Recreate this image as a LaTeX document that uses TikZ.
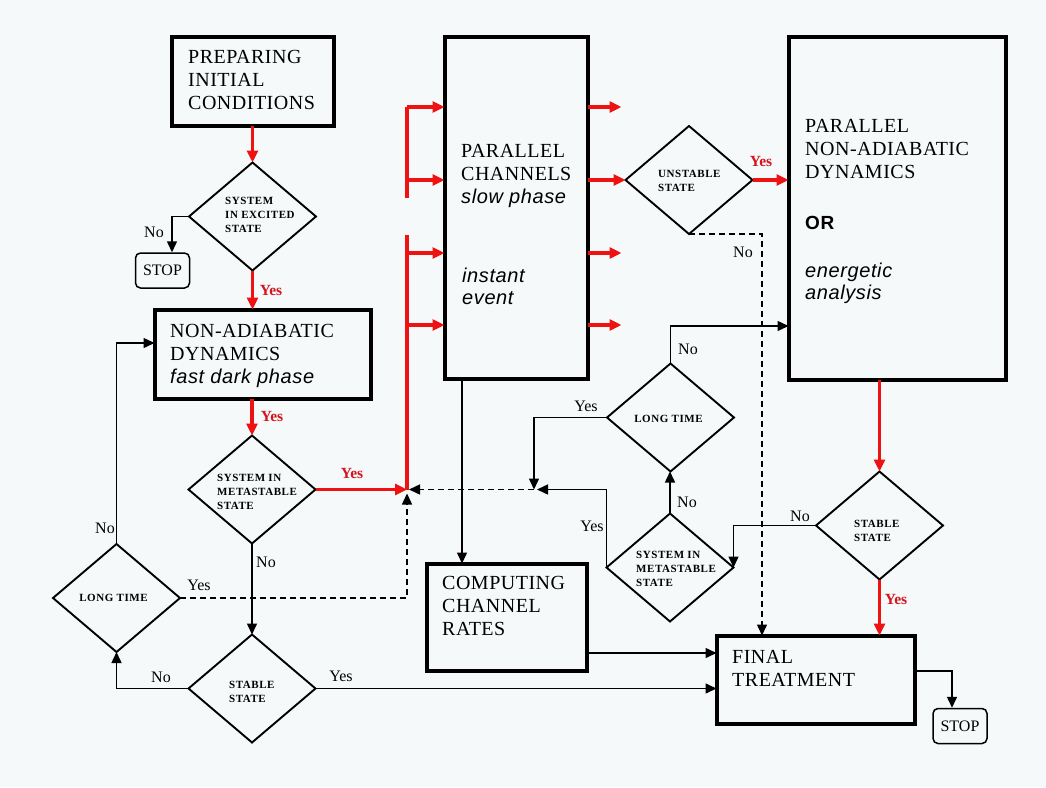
\documentclass[tikz,border=0pt]{standalone}
\usepackage{fontspec}
\setmainfont{Liberation Serif}
\newfontfamily\sansf{Liberation Sans}[LetterSpace=3]
\newfontfamily\dfont{Liberation Serif}[LetterSpace=5]
\newfontfamily\boxf{Liberation Serif}[LetterSpace=2.5]
\usetikzlibrary{shapes.geometric,arrows.meta}
\definecolor{bgcol}{RGB}{246,249,249}
\definecolor{rline}{RGB}{238,18,18}
\definecolor{rtext}{RGB}{212,20,30}
\begin{document}
\begin{tikzpicture}[x=1pt,y=-1pt,
  bigbox/.style={draw=black, line width=4pt, inner sep=0pt, outer sep=0pt},
  dia/.style={draw=black, diamond, line width=1.9pt, inner sep=0pt, outer sep=0pt, minimum width=127pt, minimum height=108pt},
  stopbox/.style={draw=black, rounded corners=5pt, line width=1.5pt, minimum width=54pt, minimum height=35pt, inner sep=0pt, font=\fontsize{16}{18}\selectfont},
  btxt/.style={anchor=north west, inner sep=0pt, align=left, font=\boxf\fontsize{20}{22.8}\selectfont},
  itxt/.style={anchor=north west, inner sep=0pt, align=left, font=\sansf\itshape\fontsize{20}{22}\selectfont},
  dtxt/.style={anchor=north west, inner sep=0pt, align=left, font=\dfont\bfseries\fontsize{11}{14}\selectfont},
  conn/.style={draw=black, line width=1.5pt, -{Triangle[length=11pt,width=10pt]}},
  dconn/.style={conn, dash pattern=on 6pt off 4pt},
  rline/.style={draw=rline, line width=3.5pt},
  rconn/.style={draw=rline, line width=3.5pt, -{Triangle[length=12pt,width=11pt]}},
  lbl/.style={inner sep=0pt, font=\fontsize{16}{16}\selectfont},
  rlbl/.style={inner sep=0pt, text=rtext, font=\bfseries\fontsize{15.5}{16}\selectfont}
]
\fill[bgcol] (0,0) rectangle (1046,787);
\useasboundingbox (0,0) rectangle (1046,787);

% boxes
\node[bigbox, minimum width=162pt, minimum height=89pt] (prep) at (252.5,81) {};
\node[dia] (exc) at (252.5,216.5) {};
\node[stopbox] (stopL) at (162.5,270.5) {STOP};
\node[bigbox, minimum width=216pt, minimum height=89pt] (nonad) at (262.5,354) {};
\node[dia] (meta) at (252,489.5) {};
\node[bigbox, minimum width=143pt, minimum height=342pt] (mid) at (516,207.5) {};
\node[dia] (unst) at (689,180) {};
\node[bigbox, minimum width=217pt, minimum height=343pt] (right) at (897,208) {};
\node[dia] (ltR) at (670.5,417.5) {};
\node[dia] (metaR) at (670,567.5) {};
\node[dia] (stR) at (879.5,525.5) {};
\node[bigbox, minimum width=160pt, minimum height=107pt] (comp) at (506.5,617) {};
\node[bigbox, minimum width=198pt, minimum height=88pt] (final) at (815.5,679.5) {};
\node[stopbox] (stopR) at (960,726) {STOP};
\node[dia] (ltL) at (116.5,598) {};
\node[dia] (stL) at (252,688.5) {};

% box texts
\node[btxt] at (188,50) {PREPARING\\INITIAL\\CONDITIONS};
\node[btxt] at (170,324) {NON-ADIABATIC\\DYNAMICS\\{\sansf\itshape fast dark phase}};
\node[btxt] at (461,144) {PARALLEL\\CHANNELS\\{\sansf\itshape slow phase}};
\node[itxt] at (462,268) {instant\\event};
\node[btxt] at (805,119.5) {PARALLEL\\NON-ADIABATIC\\DYNAMICS};
\node[btxt, font=\sansf\bfseries\fontsize{19}{22}\selectfont] at (805,216.5) {OR};
\node[itxt] at (805,263) {energetic\\analysis};
\node[btxt] at (442,576) {COMPUTING\\CHANNEL\\RATES};
\node[btxt] at (732,650) {FINAL\\TREATMENT};

% diamond texts
\node[dtxt] at (225,197) {SYSTEM\\IN EXCITED\\STATE};
\node[dtxt] at (217,474) {SYSTEM IN\\METASTABLE\\STATE};
\node[dtxt] at (658,170) {UNSTABLE\\STATE};
\node[dtxt, anchor=base] at (113.5,601.5) {LONG TIME};
\node[dtxt] at (229,681) {STABLE\\STATE};
\node[dtxt, anchor=base] at (668.5,422) {LONG TIME};
\node[dtxt] at (636,551) {SYSTEM IN\\METASTABLE\\STATE};
\node[dtxt] at (854,520) {STABLE\\STATE};

% coordinates
\coordinate (J1) at (407,489.5);
\coordinate (J2) at (534,489.5);
\coordinate (bus1) at (407,107);
\coordinate (bus2) at (407,198);
\coordinate (bus3) at (407,235);

% red flow
\draw[rconn] (prep.south) -- (prep.south |- exc.north);
\draw[rconn] (exc.south) -- (exc.south |- nonad.north);
\draw[rconn] (meta.north |- nonad.south) -- (meta.north);
\draw[rconn] (meta.east) -- (J1);
\draw[rline] (bus1) -- (bus2);
\draw[rline] (bus3) -- (J1);
\foreach \yy in {107,180,253,325} {
  \draw[rconn] (407,\yy) -- (mid.west |- 0,\yy);
}
\foreach \yy in {107,253,325} {
  \draw[rconn] (mid.east |- 0,\yy) -- ++(34,0);
}
\draw[rconn] (mid.east |- unst.west) -- (unst.west);
\draw[rconn] (unst.east) -- (right.west |- unst.east);
\draw[rconn] (right.south -| stR.north) -- (stR.north);
\draw[rconn] (stR.south) -- (stR.south |- final.north);

% black connectors
\draw[conn] (exc.west) -| ([xshift=9.5pt]stopL.north);
\draw[dconn] (unst.south) -| (final.north -| 762,0);
\draw[conn] (ltR.north) |- (right.west |- 0,326);
\draw[conn] (ltR.west) -| (J2);
\draw[conn] (metaR.west) |- ([xshift=3pt]J2);
\draw[dconn] (J2) -- ([xshift=2pt]J1);
\draw[dconn] (ltL.east) -| ([yshift=-4pt]J1);
\draw[conn] (metaR.north) -- (metaR.north |- ltR.south);
\draw[conn] (stR.west) -| (metaR.east);
\draw[conn] (mid.south -| 462,0) -- (comp.north -| 462,0);
\draw[conn] (comp.east |- 0,653) -- (final.west |- 0,653);
\draw[conn] (stL.east) -- (final.west |- stL.east);
\draw[conn] (final.east |- 0,671) -| ([xshift=-8pt]stopR.north);
\draw[conn] (meta.south) -- (stL.north);
\draw[conn] (stL.west) -| (ltL.south);
\draw[conn] (ltL.north) |- (nonad.west |- 0,343);

% labels
\node[lbl] at (154,232) {No};
\node[rlbl] at (271,290) {Yes};
\node[rlbl] at (272,416) {Yes};
\node[rlbl] at (352,473) {Yes};
\node[lbl] at (105,528) {No};
\node[lbl] at (266,562) {No};
\node[lbl] at (199,585) {Yes};
\node[lbl] at (161,677) {No};
\node[lbl] at (341,676) {Yes};
\node[rlbl] at (761,161) {Yes};
\node[lbl] at (743,252) {No};
\node[lbl] at (688,349) {No};
\node[lbl] at (586,406) {Yes};
\node[lbl] at (687,502) {No};
\node[lbl] at (592,526) {Yes};
\node[lbl] at (800,516) {No};
\node[rlbl] at (896,599) {Yes};
\end{tikzpicture}
\end{document}
